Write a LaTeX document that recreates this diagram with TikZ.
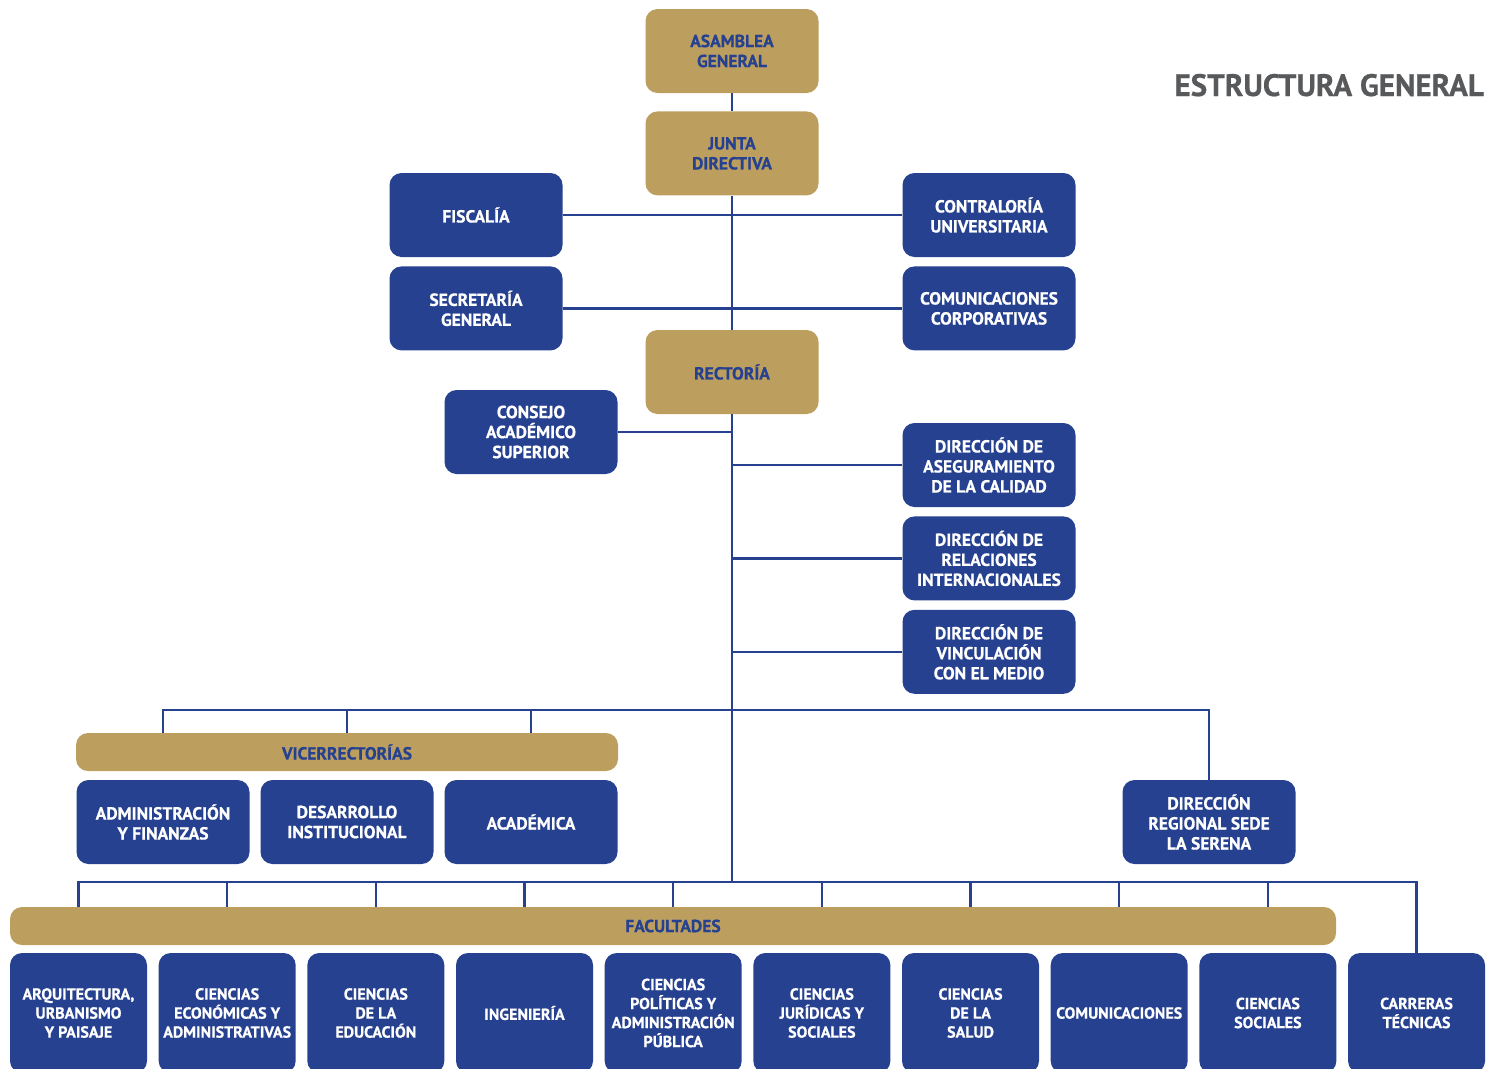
\documentclass[tikz,border=0pt]{standalone}
\usepackage{fontspec}
\setmainfont{PT Sans}[BoldFeatures={FakeBold=0.6}]
\usetikzlibrary{positioning}
\definecolor{azulU}{HTML}{26418F}
\definecolor{oroU}{HTML}{BC9E5F}
\definecolor{grisTit}{HTML}{58595B}

\begin{document}
\begin{tikzpicture}[x=1pt,y=-1pt,node distance=9pt,
      caja/.style={rectangle,rounded corners=12pt,fill=azulU,text=white,align=center,
        font=\bfseries\fontsize{17.5}{20}\selectfont,minimum width=173pt,minimum height=84pt,inner sep=0pt},
      caja oro/.style={caja,fill=oroU,text=azulU},
      barra/.style={caja oro,minimum height=38pt},
      facultad/.style={caja,minimum width=137pt,minimum height=120pt,
        font=\bfseries\fontsize{16}{19}\selectfont},
      conn/.style={draw=azulU,line width=2.4pt}]
    \useasboundingbox (0,0) rectangle (1487,1068);
    \clip (0,0) rectangle (1487,1068);
    \node[caja oro] (asamblea) at (732,51) {ASAMBLEA\\GENERAL};
    \node[caja oro] (junta) [below=18pt of asamblea] {JUNTA\\DIRECTIVA};
    \node[caja] (fiscalia) at (476,215) {FISCALÍA};
    \node[caja] (contraloria) at (989,215) {CONTRALORÍA\\UNIVERSITARIA};
    \node[caja] (secretaria) [below=of fiscalia] {SECRETARÍA\\GENERAL};
    \node[caja] (comCorp) [below=of contraloria] {COMUNICACIONES\\CORPORATIVAS};
    \node[caja oro] (rectoria) at (732,372) {RECTORÍA};
    \node[caja] (consejo) at (531,432) {CONSEJO\\ACADÉMICO\\SUPERIOR};
    \node[caja] (dirCalidad) at (989,465) {DIRECCIÓN DE\\ASEGURAMIENTO\\DE LA CALIDAD};
    \node[caja] (dirRelInt) [below=of dirCalidad] {DIRECCIÓN DE\\RELACIONES\\INTERNACIONALES};
    \node[caja] (dirVinc) [below=of dirRelInt] {DIRECCIÓN DE\\VINCULACIÓN\\CON EL MEDIO};
    \node[barra] (vice) at (347,752) [minimum width=542pt] {VICERRECTORÍAS};
    \node[caja] (adminFin) at (163,822) {ADMINISTRACIÓN\\Y FINANZAS};
    \node[caja] (desarrollo) at (347,822) {DESARROLLO\\INSTITUCIONAL};
    \node[caja] (academica) at (531,822) {ACADÉMICA};
    \node[caja] (regional) at (1209,822) {DIRECCIÓN\\REGIONAL SEDE\\LA SERENA};
    \node[barra] (facultades) at (673,926) [minimum width=1326pt] {FACULTADES};
    \foreach \i/\txt in {1/{ARQUITECTURA,\\URBANISMO\\Y PAISAJE},
        2/{CIENCIAS\\ECONÓMICAS Y\\ADMINISTRATIVAS},
        3/{CIENCIAS\\DE LA\\EDUCACIÓN},
        4/{INGENIERÍA},
        5/{CIENCIAS\\POLÍTICAS Y\\ADMINISTRACIÓN\\PÚBLICA},
        6/{CIENCIAS\\JURÍDICAS Y\\SOCIALES},
        7/{CIENCIAS\\DE LA\\SALUD},
        8/{COMUNICACIONES},
        9/{CIENCIAS\\SOCIALES},
        10/{CARRERAS\\TÉCNICAS}}
      \node[facultad] (fac\i) at ({78.5+148.67*(\i-1)},1013) {\txt};
    \node[anchor=base east,text=grisTit,font=\bfseries\fontsize{31}{36}\selectfont,inner sep=0pt]
      (titulo) at (1484,96) {ESTRUCTURA GENERAL};

    \coordinate (ramaVice) at (732,710);
    \coordinate (ramaFac) at (732,882);
    \draw[conn] (asamblea.south) -- (junta.north);
    \draw[conn] (junta.south) -- (rectoria.north);
    \draw[conn] (rectoria.south) -- (ramaFac);
    \draw[conn] (fiscalia.east) -- (contraloria.west);
    \draw[conn] (secretaria.east) -- (comCorp.west);
    \draw[conn] (consejo.east) -- (consejo.east -| rectoria);
    \foreach \d in {dirCalidad,dirRelInt,dirVinc}
      \draw[conn] (\d.west) -- (\d.west -| rectoria);
    \draw[conn] (adminFin |- vice.north) -- (adminFin |- ramaVice)
      -- (regional |- ramaVice) -- (regional.north);
    \foreach \v in {desarrollo,academica}
      \draw[conn] (\v |- vice.north) -- (\v |- ramaVice);
    \draw[conn] (fac1 |- facultades.north) -- (fac1 |- ramaFac)
      -- (fac10 |- ramaFac) -- (fac10.north);
    \foreach \i in {2,...,9}
      \draw[conn] (fac\i |- facultades.north) -- (fac\i |- ramaFac);
  \end{tikzpicture}
\end{document}
